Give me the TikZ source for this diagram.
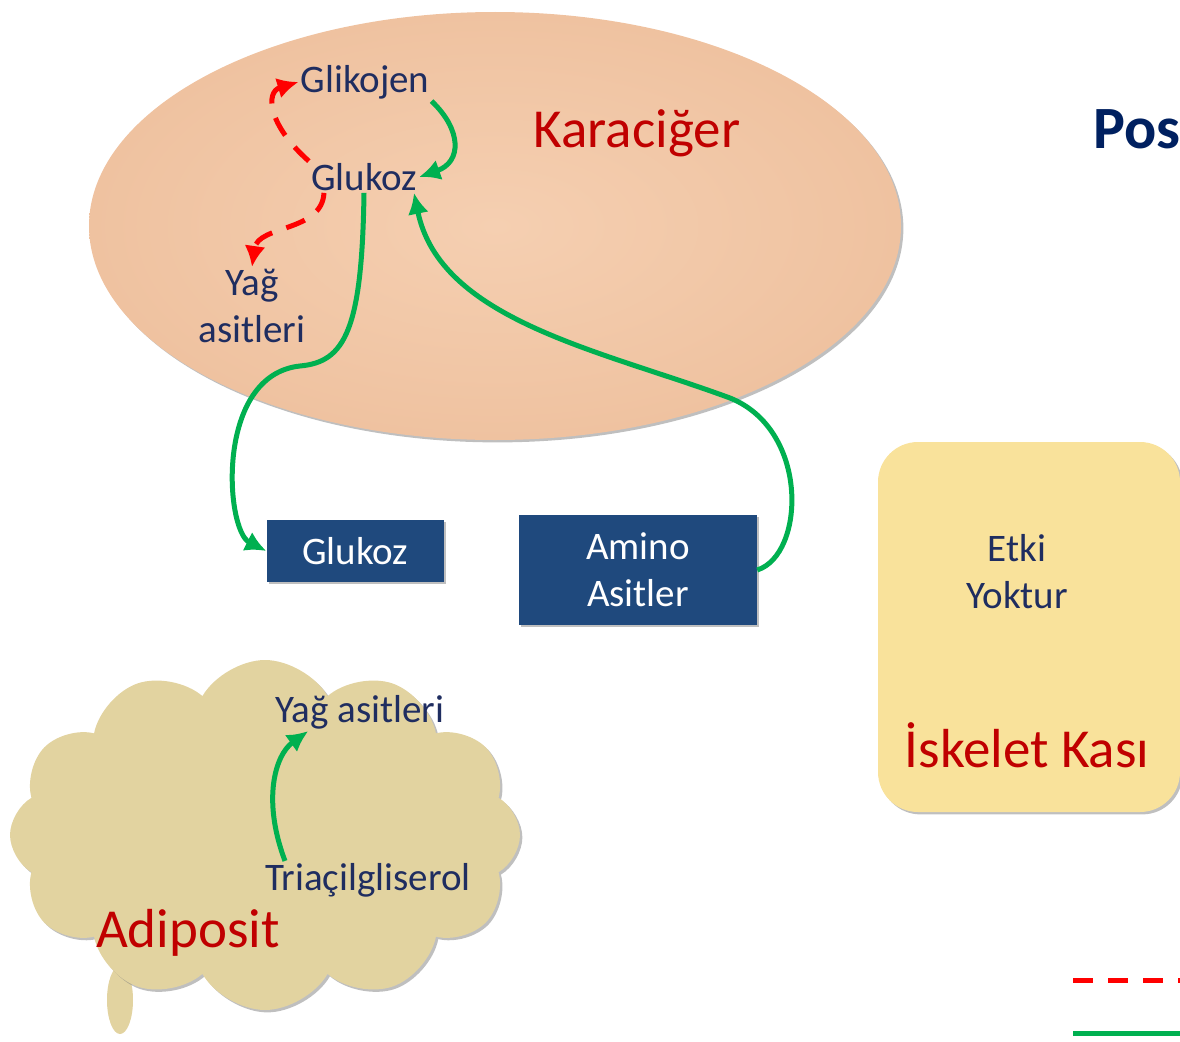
\documentclass[tikz,border=0pt]{standalone}
\usepackage{fontspec}
\setmainfont{Carlito}
\usetikzlibrary{shapes.geometric,shapes.symbols,shadows,arrows.meta}
\definecolor{lacivert}{RGB}{31,45,96}
\definecolor{koyukirmizi}{RGB}{192,0,0}
\definecolor{kum}{RGB}{226,211,160}
\definecolor{sari}{RGB}{249,226,155}
\definecolor{mavikutu}{RGB}{31,73,125}
\definecolor{yesil}{RGB}{0,176,80}
\definecolor{baslikmavi}{RGB}{0,32,96}
\begin{document}
\begin{tikzpicture}[x=1pt,y=-1pt,>={Latex[length=21pt,width=21pt]},
  etiket/.style={text=lacivert,font=\fontsize{39}{47}\selectfont,inner sep=2pt,align=center},
  baslik/.style={text=koyukirmizi,font=\fontsize{55}{60}\selectfont,inner sep=2pt},
  kutu/.style={fill=mavikutu,text=white,font=\fontsize{39}{47}\selectfont,align=center,drop shadow},
  yesilok/.style={->,yesil,line width=5pt},
  kirmiziok/.style={->,red,line width=5pt,dash pattern=on 20pt off 15pt}]
\useasboundingbox (0,0) rectangle (1180,1041);
\clip (0,0) rectangle (1180,1041);

% karaciger
\node[ellipse,minimum width=812,minimum height=428,drop shadow,
  shading=radial,inner color={rgb,255:red,245;green,207;blue,177},
  outer color={rgb,255:red,239;green,194;blue,160}] (kc) at (495,226) {};
\node[etiket] (glk) at (365,82) {Glikojen};
\node[etiket] (glu) at (364,177) {Glukoz};
\node[etiket] (yag) at (252,306) {Yağ\\asitleri};
\node[baslik] (kcad) at (637,133) {Karaciğer};

% kutular
\node[kutu,minimum width=177,minimum height=62] (gbox) at (355,551) {Glukoz};
\node[kutu,minimum width=238,minimum height=110] (abox) at (638,570) {Amino\\Asitler};

% iskelet kasi
\node[rounded corners=40,minimum width=302,minimum height=370,fill=sari,drop shadow] (kas) at (1029,627) {};
\node[etiket] (etki) at (1017,572) {Etki\\Yoktur};
\node[baslik] (kasad) at (1027,745) {İskelet Kası};

% adiposit
\fill[kum] (120,1000) ellipse [x radius=13, y radius=34];
\node[cloud,cloud puffs=12,cloud puff arc=120,aspect=1.5,minimum width=510,minimum height=350,
  fill=kum,drop shadow] (bulut) at (265,835) {};
\node[etiket] (yagc) at (360,712) {Yağ asitleri};
\node[etiket] (tri) at (368,880) {Triaçilgliserol};
\node[baslik] (adp) at (188,933) {Adiposit};

\node[anchor=base west,text=baslikmavi,font=\bfseries\fontsize{60}{66}\selectfont,inner sep=0] (pos) at (1093,148) {Pos};

% oklar
\draw[kirmiziok] (glu.north west) .. controls (268,125) and (265,92) .. (glk.west);
\draw[kirmiziok] ([xshift=-40]glu.south) .. controls (322,232) and (258,225) .. (yag.north);
\draw[yesilok] (glk.south east) .. controls (462,130) and (462,162) .. (glu.east);
\draw[yesilok] (glu.south) .. controls (362,330) and (345,362) .. (300,366)
  .. controls (215,375) and (225,530) .. (gbox.west);
\draw[yesilok] (abox.east) .. controls (805,555) and (810,430) .. (730,398)
  .. controls (600,350) and (440,320) .. ([xshift=50]glu.south);
\draw[yesilok] ([xshift=22]tri.north west) .. controls (262,800) and (275,755) .. ([xshift=35]yagc.south west);

% lejant
\draw[red,line width=5pt,dash pattern=on 20pt off 15pt] (1073,980) -- (1180,980);
\draw[yesil,line width=5pt] (1073,1033) -- (1180,1033);
\end{tikzpicture}
\end{document}
